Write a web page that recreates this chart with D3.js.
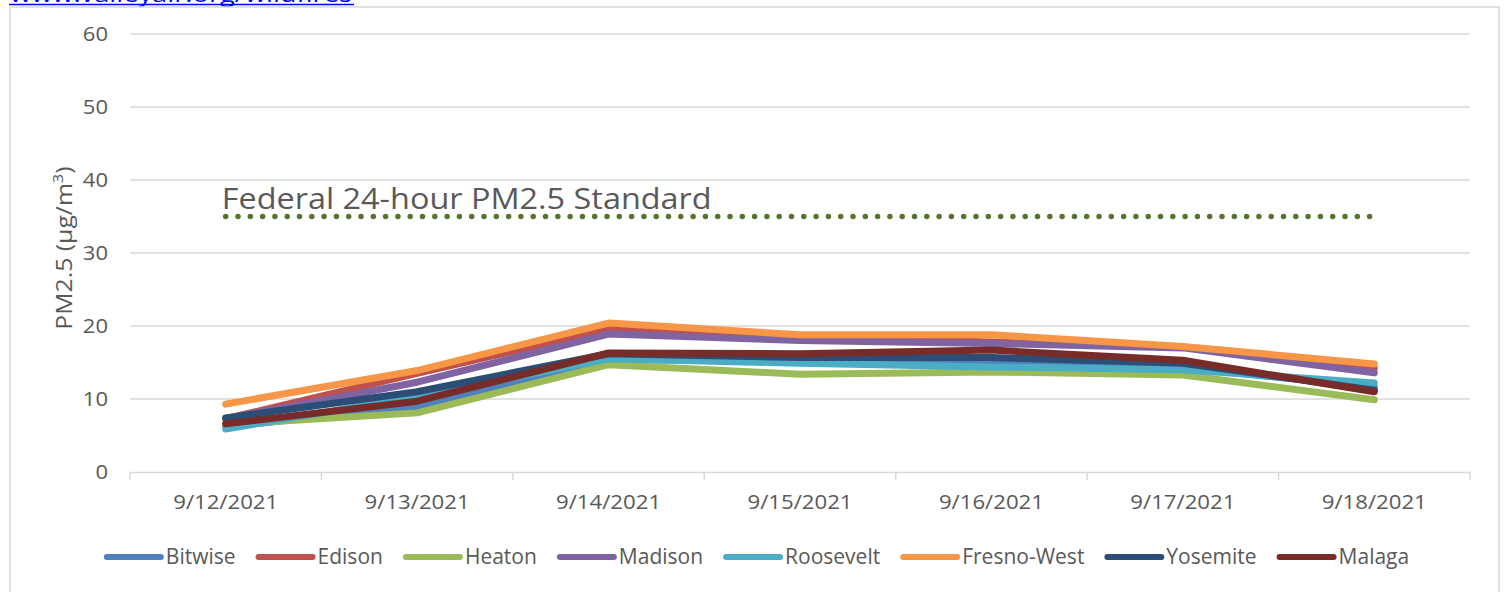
<!DOCTYPE html>
<html>
<head>
<meta charset="utf-8">
<script src="https://cdn.jsdelivr.net/npm/d3@7"></script>
<style>
  body { margin: 0; background: #fff; }
  text { font-family: "Open Sans", "Noto Sans", sans-serif; fill: #595959; }
</style>
</head>
<body>
<div id="chart"></div>
<script>
// data
const dates = ["9/12/2021", "9/13/2021", "9/14/2021", "9/15/2021", "9/16/2021", "9/17/2021", "9/18/2021"]
const yTicks = [0, 10, 20, 30, 40, 50, 60]
const seriesNames = ["Bitwise", "Edison", "Heaton", "Madison", "Roosevelt", "Fresno-West", "Yosemite", "Malaga"]
const seriesColors = ["#4F81BD", "#C0504D", "#9BBB59", "#8064A2", "#4BACC6", "#F79646", "#2C4D75", "#772C2A"]
const bitwise    = [6.2, 8.9, 15.4, 15.2, 15.0, 14.3, 11.6]
const edison     = [7.3, 13.5, 19.6, 18.5, 17.8, 17.1, 14.2]
const heaton     = [6.5, 8.1, 14.7, 13.4, 13.7, 13.3, 9.9]
const madison    = [7.3, 12.3, 18.9, 18.0, 17.6, 17.0, 13.6]
const roosevelt  = [5.9, 10.3, 15.5, 14.9, 14.4, 14.0, 12.2]
const fresnoWest = [9.3, 13.9, 20.4, 18.8, 18.8, 17.2, 14.8]
const yosemite   = [7.4, 11.0, 16.2, 15.7, 15.7, 14.9, 11.2]
const malaga     = [6.6, 9.7, 16.3, 16.2, 16.7, 15.3, 11.0]
const federalStandard = 35
const standardLabel = "Federal 24-hour PM2.5 Standard"
const linkText = "www.valleyair.org/wildfires"

const seriesValues = [bitwise, edison, heaton, madison, roosevelt, fresnoWest, yosemite, malaga]
const series = seriesNames.map((name, i) => ({
    name: name,
    color: seriesColors[i],
    values: seriesValues[i]
}))

const svg = d3.select("#chart")
    .append("svg")
    .attr("width", 1504)
    .attr("height", 592)

// link text, cut off at the top like in the original
svg.append("text")
    .attr("x", 10)
    .attr("y", 2)
    .attr("textLength", 342)
    .attr("lengthAdjust", "spacingAndGlyphs")
    .style("font-size", "22px")
    .style("fill", "#0000ff")
    .text(linkText)
svg.append("line")
    .attr("x1", 9).attr("x2", 354)
    .attr("y1", 4.5).attr("y2", 4.5)
    .attr("stroke", "#0000ff")
    .attr("stroke-width", 1.5)

// chart border
svg.append("rect")
    .attr("x", 10)
    .attr("y", 7)
    .attr("width", 1489)
    .attr("height", 600)
    .attr("fill", "none")
    .attr("stroke", "#d9d9d9")
    .attr("stroke-width", 1.5)

const x = d3.scaleBand()
    .domain(dates)
    .range([130, 1470])

const y = d3.scaleLinear()
    .domain([0, 60])
    .range([472, 34])

const cx = d => x(d) + x.bandwidth() / 2

// gridlines
svg.append("g")
    .selectAll("line")
    .data(yTicks.filter(t => t > 0))
    .enter().append("line")
    .attr("x1", 130).attr("x2", 1470)
    .attr("y1", d => y(d)).attr("y2", d => y(d))
    .attr("stroke", "#d9d9d9")
    .attr("stroke-width", 1.5)

// y axis labels
const yAxis = svg.append("g")
    .attr("transform", "translate(119, 0)")
    .call(d3.axisLeft(y).tickValues(yTicks).tickSize(0))
yAxis.select(".domain").remove()
yAxis.selectAll("text")
    .attr("x", -10)
    .attr("transform", "scale(1.1,1)")
    .style("font-size", "20px")
    .style("font-family", "Open Sans")
    .attr("fill", "#595959")

// x axis
const xAxis = svg.append("g")
    .attr("transform", "translate(0, 472)")
    .call(d3.axisBottom(x).tickSize(0).tickPadding(23))
xAxis.select(".domain")
    .attr("stroke", "#d9d9d9")
    .attr("stroke-width", 1.5)
xAxis.selectAll("text")
    .attr("transform", "scale(1.11,1)")
    .style("font-size", "20px")
    .style("font-family", "Open Sans")
    .attr("fill", "#595959")
xAxis.selectAll(".edge")
    .data(dates.map(d => x(d)).concat([1470]))
    .enter().append("line")
    .attr("class", "edge")
    .attr("x1", d => d).attr("x2", d => d)
    .attr("y1", 0).attr("y2", 8)
    .attr("stroke", "#d9d9d9")
    .attr("stroke-width", 1.5)

// y axis title
svg.append("text")
    .attr("transform", `translate(72, 248) rotate(-90) scale(1.18,1)`)
    .attr("text-anchor", "middle")
    .style("font-size", "21px")
    .call(t => {
        t.append("tspan").text("PM2.5 (µg/m")
        t.append("tspan").attr("dy", -9).style("font-size", "14px").text("3")
        t.append("tspan").attr("dy", 9).text(")")
    })

// federal standard
svg.append("line")
    .attr("x1", cx(dates[0]))
    .attr("x2", cx(dates[dates.length - 1]))
    .attr("y1", y(federalStandard))
    .attr("y2", y(federalStandard))
    .attr("stroke", "#577330")
    .attr("stroke-width", 5.5)
    .attr("stroke-linecap", "round")
    .attr("stroke-dasharray", "0 12.3")

svg.append("text")
    .attr("x", cx(dates[0]) - 4)
    .attr("y", y(federalStandard) - 8)
    .attr("textLength", 490)
    .attr("lengthAdjust", "spacingAndGlyphs")
    .style("font-size", "29px")
    .text(standardLabel)

// series lines
const line = d3.line()
    .x((d, i) => cx(dates[i]))
    .y(d => y(d))

svg.append("g")
    .selectAll("path")
    .data(series)
    .enter().append("path")
    .attr("d", d => line(d.values))
    .attr("fill", "none")
    .attr("stroke", d => d.color)
    .attr("stroke-width", 7)
    .attr("stroke-linecap", "round")
    .attr("stroke-linejoin", "round")

// legend
const legend = svg.append("g")
const items = legend.selectAll("g")
    .data(series)
    .enter().append("g")
items.append("line")
    .attr("x1", 0).attr("x2", 54)
    .attr("y1", 0).attr("y2", 0)
    .attr("stroke", d => d.color)
    .attr("stroke-width", 6)
    .attr("stroke-linecap", "round")
items.append("text")
    .attr("x", 59)
    .attr("y", 7)
    .style("font-size", "21px")
    .text(d => d.name)

let pos = 0
const offsets = []
items.each(function(d) {
    const w = 59 + d3.select(this).select("text").node().getComputedTextLength()
    offsets.push(pos)
    pos += w + 23
})
const total = pos - 23
const start = 758 - total / 2
items.attr("transform", (d, i) => `translate(${start + offsets[i]}, 557)`)
</script>
</body>
</html>
